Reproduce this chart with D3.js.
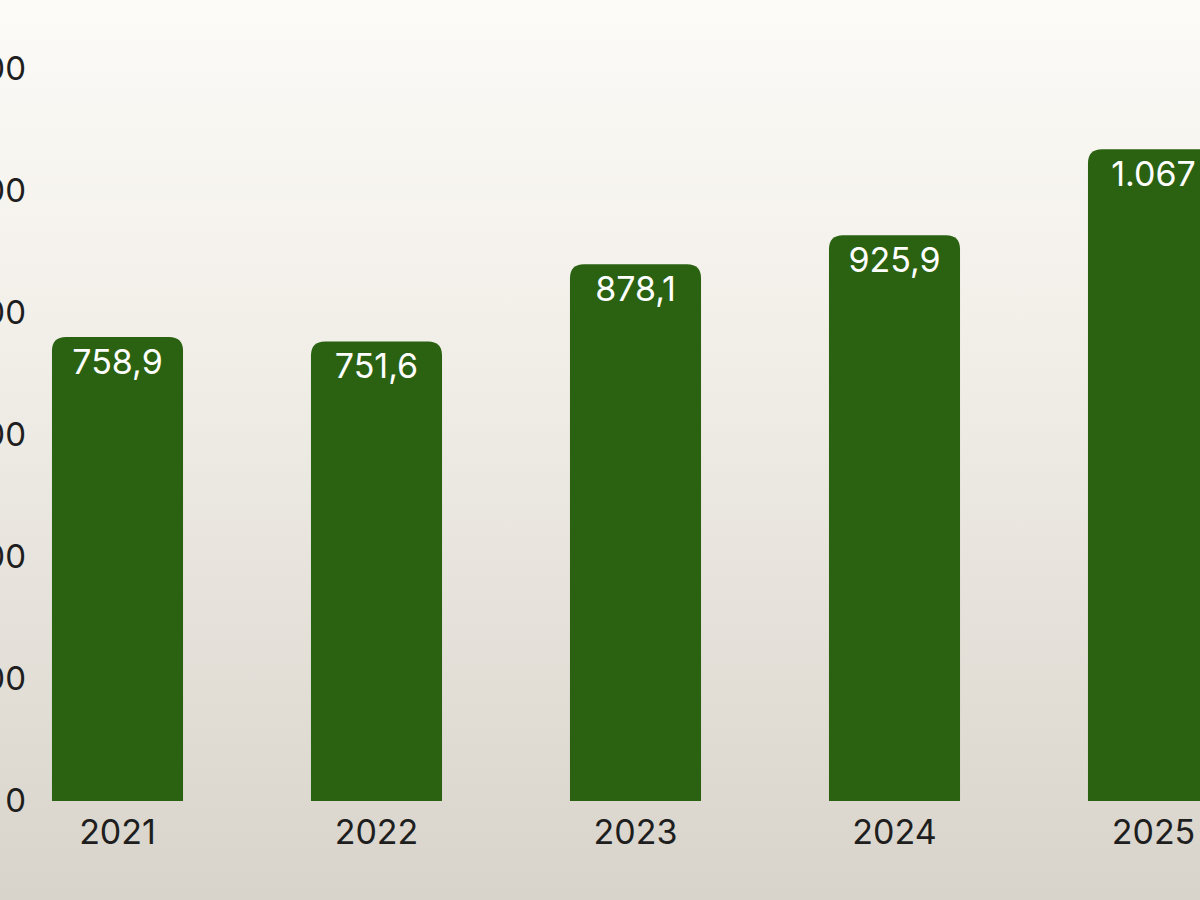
<!DOCTYPE html>
<html>
<head>
<meta charset="utf-8">
<script src="https://cdn.jsdelivr.net/npm/d3@7"></script>
<style>
html,body{margin:0;padding:0;overflow:hidden;}
body{width:1200px;height:900px;}
</style>
</head>
<body>
<svg id="chart" width="1200" height="900"></svg>
<script>
const years = ["2021","2022","2023","2024","2025"];
const values = [758.9, 751.6, 878.1, 925.9, 1067];
const yTicks = [0, 200, 400, 600, 800, 1000, 1200];

const W = 1200, H = 900;
const svg = d3.select("#chart");
const defs = svg.append("defs");
const grad = defs.append("linearGradient").attr("id","bg").attr("x1",0).attr("y1",0).attr("x2",0).attr("y2",1);
grad.append("stop").attr("offset","0%").attr("stop-color","#fdfbf7");
grad.append("stop").attr("offset","40%").attr("stop-color","#f1eee8");
grad.append("stop").attr("offset","100%").attr("stop-color","#d8d4cb");
svg.append("rect").attr("width",W).attr("height",H).attr("fill","url(#bg)");

const loc = d3.formatLocale({decimal:",", thousands:".", grouping:[3], currency:["","€"]});
const f1 = loc.format(",.1f"), f0 = loc.format(",.0f");

const x = d3.scaleBand().domain(years).range([-12, 1283]).paddingInner(0.494).paddingOuter(0.247);
const y = d3.scaleLinear().domain([0,1200]).range([800, 68]);

const font = "Inter, 'Noto Sans', sans-serif";

// y axis labels
const yAxis = d3.axisLeft(y).tickValues(yTicks).tickSize(0).tickPadding(0).tickFormat(d => loc.format(",")(d));
const ya = svg.append("g").attr("transform","translate(26,0)").call(yAxis);
ya.select(".domain").remove();
ya.selectAll("text").attr("font-family",font).attr("font-size",33).attr("fill","#1e1e1e").attr("dy","0.35em");

// x axis labels
const xAxis = d3.axisBottom(x).tickSize(0).tickPadding(0);
const xa = svg.append("g").attr("transform","translate(0,820)").call(xAxis);
xa.select(".domain").remove();
xa.selectAll("text").attr("font-family",font).attr("font-size",34).attr("fill","#1e1e1e").attr("dy","0.71em");

// bars with rounded top corners
const r = 14;
function barPath(x0, w, yt, yb){
  return `M${x0},${yb} L${x0},${yt+r} Q${x0},${yt} ${x0+r},${yt} L${x0+w-r},${yt} Q${x0+w},${yt} ${x0+w},${yt+r} L${x0+w},${yb} Z`;
}
const data = years.map((yr,i)=>({yr, v:values[i]}));
svg.append("g").selectAll("path").data(data).join("path")
  .attr("d", d => barPath(x(d.yr), x.bandwidth(), y(d.v), y(0)+1))
  .attr("fill","#2b6212");

svg.append("g").selectAll("text").data(data).join("text")
  .attr("x", d => x(d.yr) + x.bandwidth()/2)
  .attr("y", d => y(d.v) + 25)
  .attr("dy","0.35em")
  .attr("text-anchor","middle")
  .attr("font-family",font).attr("font-size",34).attr("fill","#ffffff")
  .text(d => d.v >= 1000 ? f0(d.v) : f1(d.v));
</script>
</body>
</html>
